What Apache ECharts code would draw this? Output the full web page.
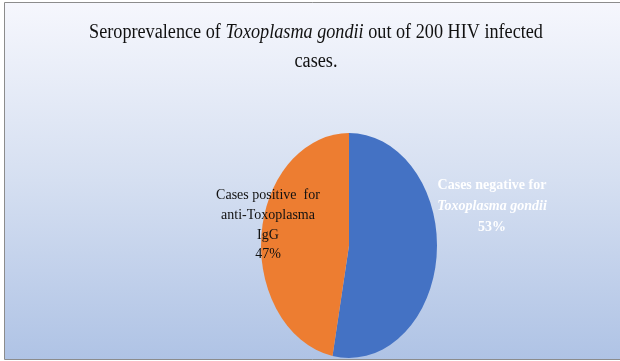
<!DOCTYPE html>
<html>
<head>
<meta charset="utf-8">
<script src="https://cdn.jsdelivr.net/npm/echarts@6/dist/echarts.min.js"></script>
<style>
  html, body { margin: 0; padding: 0; background: #ffffff; }
  #chart { width: 620px; height: 361px; }
</style>
</head>
<body>
<div id="chart"></div>
<script>
// Slice names (rich-text markup marks the italic species name), values in percent
var categories = [
  'Cases negative for\n{i|Toxoplasma gondii}',
  'Cases positive  for\nanti-Toxoplasma\nIgG'
];
var values = [53, 47];
var sliceColors = ['#4472c4', '#ed7d31'];
var titleText = 'Seroprevalence of {i|Toxoplasma gondii} out of 200 HIV infected\ncases.';

var SERIF = '"Liberation Serif", "Times New Roman", serif';

// Pie geometry: a circle stretched vertically into an ellipse
var CX = 349, CY = 245.5, R = 88, SY = 1.278;

// Label placement for each slice
var labelSpecs = [
  { x: 492, y: 206, fill: '#ffffff', weight: 'bold', lineHeight: 20 },
  { x: 268, y: 225, fill: '#111111', weight: 'normal', lineHeight: 18.8 }
];

var total = values.reduce(function (a, b) { return a + b; }, 0);

function renderSlice(params, api) {
  var i = params.dataIndex;
  var before = 0;
  for (var k = 0; k < i; k++) before += values[k];
  var v = api.value(0);
  var a0 = -Math.PI / 2 + before / total * 2 * Math.PI;
  var a1 = a0 + v / total * 2 * Math.PI;
  var lab = labelSpecs[i];
  var pct = Math.round(v / total * 100) + '%';
  return {
    type: 'group',
    children: [
      {
        type: 'sector',
        shape: { cx: CX, cy: CY, r0: 0, r: R, startAngle: a0, endAngle: a1, clockwise: true },
        scaleY: SY, originX: CX, originY: CY,
        style: { fill: sliceColors[i] }
      },
      {
        type: 'text',
        x: lab.x, y: lab.y,
        z2: 10,
        scaleY: 1.05, originX: 0, originY: 0,
        style: {
          text: categories[i] + '\n' + pct,
          fill: lab.fill,
          fontFamily: SERIF,
          fontSize: 14,
          fontWeight: lab.weight,
          lineHeight: lab.lineHeight,
          align: 'center', verticalAlign: 'middle',
          textAlign: 'center', textVerticalAlign: 'middle',
          rich: {
            i: {
              fontFamily: SERIF, fontSize: 14, fontStyle: 'italic',
              fontWeight: lab.weight, fill: lab.fill, lineHeight: lab.lineHeight
            }
          }
        }
      }
    ]
  };
}

var chart = echarts.init(document.getElementById('chart'), null, { renderer: 'canvas' });

chart.setOption({
  animation: false,
  graphic: [
    {
      type: 'rect', z: -10,
      shape: { x: 4.5, y: 2.5, width: 620, height: 357 },
      style: {
        fill: new echarts.graphic.LinearGradient(0, 0, 0, 1, [
          { offset: 0, color: '#f6f7fd' },
          { offset: 0.5, color: '#d5dff1' },
          { offset: 1, color: '#afc3e5' }
        ]),
        stroke: '#8c8c8c', lineWidth: 1
      }
    },
    {
      type: 'text', z: 5,
      x: 316, y: 47,
      scaleY: 1.1, originX: 0, originY: 0,
      style: {
        text: titleText,
        fill: '#111111',
        fontFamily: SERIF, fontSize: 18.2,
        lineHeight: 26,
        align: 'center', verticalAlign: 'middle',
        textAlign: 'center', textVerticalAlign: 'middle',
        rich: {
          i: { fontFamily: SERIF, fontSize: 18.2, fontStyle: 'italic', fill: '#111111', lineHeight: 26 }
        }
      }
    }
  ],
  series: [{
    type: 'custom',
    coordinateSystem: 'none',
    renderItem: renderSlice,
    data: values.map(function (v) { return [v]; })
  }]
});
</script>
</body>
</html>
